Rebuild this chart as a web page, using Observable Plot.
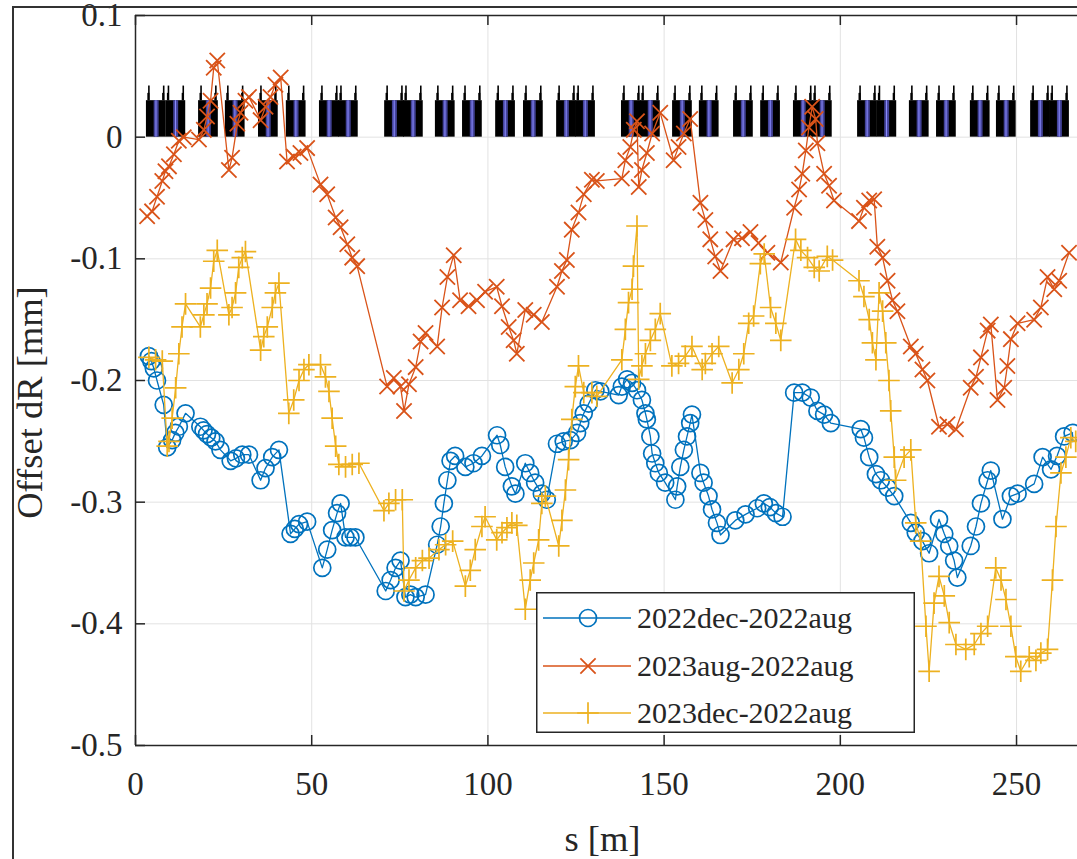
<!DOCTYPE html>
<html><head><meta charset="utf-8">
<script src="https://cdn.jsdelivr.net/npm/d3@7"></script>
<script src="https://cdn.jsdelivr.net/npm/@observablehq/plot@0.6"></script>
<style>
html,body{margin:0;padding:0;background:#fff;overflow:hidden;}
#wrap{position:relative;width:1077px;height:859px;overflow:hidden;}
#wrap svg{display:block;}
.outerL{position:absolute;left:12px;top:6px;width:2px;height:853px;background:#333;}
.outerT{position:absolute;left:12px;top:6px;width:1065px;height:2px;background:#333;}
#legend{position:absolute;left:536px;top:592px;}
</style></head><body>
<div id="wrap"><div class="outerL"></div><div class="outerT"></div></div>
<script>
// ---------- data ----------
const seriesNames = ["2022dec-2022aug", "2023aug-2022aug", "2023dec-2022aug"];
const seriesColors = ["#0072BD", "#D95319", "#EDB120"];

const xTicks = [0, 50, 100, 150, 200, 250];
const yTicks = [-0.5, -0.4, -0.3, -0.2, -0.1, 0, 0.1];

const blueS = [3.8,4.5,5.2,6.1,8.0,9.0,10.4,11.3,12.3,14.2,18.4,19.3,20.3,21.5,22.7,24.1,27.0,28.5,30.3,32.2,35.5,36.9,38.8,40.7,44.0,45.2,46.4,48.7,53.0,54.4,55.8,57.2,58.2,59.6,61.0,62.4,71.0,72.4,73.8,75.2,76.6,78.0,79.5,82.3,85.6,86.6,87.5,88.5,89.4,90.7,93.6,95.9,98.3,102.6,103.5,104.9,106.8,107.8,110.6,112.0,113.4,115.3,116.7,119.6,121.5,123.4,125.3,126.2,127.2,128.6,130.5,131.9,137.1,138.0,139.5,140.9,142.3,143.7,144.7,145.1,146.1,146.6,147.5,148.5,150.3,153.2,153.7,154.6,155.6,156.5,157.4,157.9,160.3,161.2,162.6,163.6,165.0,166.0,170.2,173.1,176.4,178.3,180.0,181.7,183.6,186.9,189.2,191.6,193.5,195.4,197.3,205.8,206.7,208.2,210.1,211.5,213.4,215.3,220.0,221.4,223.3,225.2,228.0,229.5,230.9,232.3,233.2,237.0,238.5,239.9,241.8,242.7,246.0,248.4,250.3,255.0,257.4,259.8,261.5,263.5,265.9];
const blueV = [-0.180,-0.184,-0.190,-0.200,-0.220,-0.255,-0.249,-0.243,-0.238,-0.227,-0.238,-0.241,-0.244,-0.247,-0.250,-0.257,-0.266,-0.264,-0.261,-0.261,-0.282,-0.272,-0.263,-0.257,-0.326,-0.322,-0.318,-0.316,-0.354,-0.339,-0.323,-0.309,-0.301,-0.329,-0.329,-0.329,-0.373,-0.364,-0.354,-0.348,-0.378,-0.376,-0.378,-0.376,-0.335,-0.320,-0.301,-0.282,-0.266,-0.262,-0.271,-0.268,-0.262,-0.245,-0.253,-0.271,-0.287,-0.293,-0.268,-0.276,-0.284,-0.293,-0.298,-0.252,-0.250,-0.249,-0.243,-0.235,-0.227,-0.219,-0.208,-0.209,-0.212,-0.205,-0.199,-0.202,-0.208,-0.216,-0.227,-0.232,-0.246,-0.260,-0.268,-0.276,-0.284,-0.298,-0.287,-0.271,-0.257,-0.246,-0.235,-0.228,-0.276,-0.284,-0.295,-0.306,-0.317,-0.327,-0.315,-0.310,-0.305,-0.301,-0.304,-0.309,-0.312,-0.210,-0.210,-0.214,-0.225,-0.228,-0.235,-0.240,-0.247,-0.263,-0.277,-0.282,-0.288,-0.295,-0.317,-0.325,-0.332,-0.342,-0.314,-0.326,-0.336,-0.348,-0.362,-0.336,-0.320,-0.301,-0.282,-0.274,-0.314,-0.295,-0.293,-0.285,-0.263,-0.273,-0.262,-0.246,-0.243];

const orangeS = [3.3,4.7,6.1,7.6,8.5,9.5,10.9,12.3,13.7,18.0,19.4,20.3,21.3,22.2,23.2,26.5,27.4,28.9,29.8,31.2,32.2,35.5,36.9,38.3,39.7,41.2,43.0,44.9,46.8,48.7,52.5,54.4,56.8,58.2,60.1,61.5,62.9,71.4,73.3,75.2,76.2,77.6,79.5,80.9,82.3,85.6,87.0,88.5,90.3,92.1,94.5,96.9,99.2,102.5,104.0,105.9,107.3,108.2,110.6,113.0,115.3,119.6,121.0,122.4,123.8,125.7,127.2,129.5,130.9,138.0,139.0,140.4,141.4,142.3,142.8,143.7,145.1,146.6,148.9,152.7,154.1,155.6,157.4,160.3,161.7,163.1,164.5,166.0,169.7,172.1,174.5,176.8,179.3,183.1,186.9,188.3,189.2,190.2,191.1,192.0,193.0,193.5,195.4,196.8,198.2,205.3,206.7,208.2,209.6,210.5,212.0,213.4,214.8,216.2,220.0,221.4,223.3,224.7,228.0,230.4,232.8,237.0,238.5,239.9,241.8,242.7,244.6,246.5,247.4,248.4,250.3,255.0,256.9,258.8,260.7,262.1,264.9];
const orangeV = [-0.065,-0.061,-0.049,-0.036,-0.028,-0.024,-0.014,-0.003,0.000,-0.002,0.006,0.017,0.030,0.057,0.063,-0.027,-0.017,0.011,0.020,0.030,0.033,0.014,0.025,0.033,0.043,0.049,-0.020,-0.016,-0.013,-0.009,-0.039,-0.047,-0.066,-0.074,-0.088,-0.099,-0.106,-0.205,-0.198,-0.205,-0.225,-0.203,-0.189,-0.168,-0.161,-0.172,-0.140,-0.115,-0.097,-0.134,-0.139,-0.134,-0.127,-0.123,-0.139,-0.156,-0.167,-0.178,-0.142,-0.146,-0.152,-0.123,-0.110,-0.101,-0.076,-0.062,-0.047,-0.035,-0.036,-0.034,-0.019,-0.008,0.006,0.013,-0.041,-0.027,-0.013,0.003,0.020,-0.019,-0.008,0.003,0.015,-0.054,-0.068,-0.084,-0.098,-0.110,-0.084,-0.083,-0.078,-0.087,-0.095,-0.103,-0.058,-0.043,-0.030,-0.011,0.008,0.025,0.015,-0.005,-0.030,-0.040,-0.052,-0.069,-0.058,-0.052,-0.051,-0.090,-0.099,-0.118,-0.134,-0.143,-0.172,-0.178,-0.191,-0.200,-0.238,-0.236,-0.240,-0.206,-0.197,-0.181,-0.159,-0.154,-0.216,-0.206,-0.188,-0.166,-0.153,-0.150,-0.140,-0.115,-0.125,-0.118,-0.095];

const yellowS = [3.8,5.7,7.6,9.0,9.5,10.4,11.4,12.3,13.2,14.2,18.4,19.4,20.3,21.3,22.2,23.2,26.5,27.4,28.4,29.3,30.3,31.2,35.5,36.4,37.4,38.8,39.7,40.7,43.5,44.9,46.4,47.8,49.2,52.5,53.9,54.9,55.8,56.8,57.7,59.6,61.5,63.4,70.5,71.9,73.8,75.7,76.2,77.6,79.5,81.4,83.3,86.1,88.0,90.0,93.6,95.0,96.4,98.3,99.2,102.5,104.0,105.4,106.8,108.2,110.6,112.0,113.0,114.4,115.3,116.3,120.1,121.0,122.0,122.9,123.8,124.8,125.7,127.2,129.5,130.9,138.0,139.0,139.9,140.9,141.3,142.3,142.8,143.7,144.7,146.1,147.5,148.9,152.2,154.1,156.0,157.9,160.8,161.7,163.6,165.5,169.3,171.2,172.6,174.0,175.4,177.3,178.4,180.2,181.7,183.1,187.3,188.8,190.7,192.6,194.0,196.3,197.8,205.3,206.7,208.2,209.1,210.1,211.0,212.0,212.9,213.8,214.3,215.3,215.7,218.1,220.0,221.4,222.8,224.3,225.2,226.6,228.0,229.5,230.9,232.8,235.6,238.0,239.9,241.8,244.1,245.6,247.0,248.4,249.8,251.2,253.6,255.5,256.9,258.8,260.2,261.2,262.6,264.0,265.4,266.8];
const yellowV = [-0.181,-0.183,-0.184,-0.254,-0.250,-0.231,-0.206,-0.178,-0.156,-0.137,-0.156,-0.146,-0.137,-0.124,-0.102,-0.093,-0.146,-0.140,-0.128,-0.107,-0.099,-0.094,-0.175,-0.164,-0.156,-0.140,-0.128,-0.120,-0.227,-0.216,-0.200,-0.191,-0.187,-0.187,-0.197,-0.209,-0.231,-0.254,-0.269,-0.271,-0.269,-0.268,-0.307,-0.301,-0.298,-0.298,-0.373,-0.364,-0.354,-0.348,-0.346,-0.339,-0.335,-0.332,-0.369,-0.356,-0.339,-0.320,-0.312,-0.331,-0.325,-0.321,-0.317,-0.319,-0.388,-0.364,-0.350,-0.331,-0.301,-0.295,-0.336,-0.315,-0.290,-0.265,-0.232,-0.205,-0.188,-0.210,-0.210,-0.213,-0.183,-0.158,-0.136,-0.125,-0.106,-0.073,-0.199,-0.188,-0.178,-0.167,-0.158,-0.145,-0.188,-0.186,-0.180,-0.172,-0.191,-0.186,-0.178,-0.172,-0.202,-0.191,-0.178,-0.153,-0.147,-0.104,-0.096,-0.140,-0.153,-0.167,-0.084,-0.093,-0.099,-0.107,-0.110,-0.098,-0.101,-0.118,-0.131,-0.150,-0.169,-0.183,-0.128,-0.143,-0.169,-0.200,-0.225,-0.263,-0.282,-0.263,-0.257,-0.317,-0.332,-0.402,-0.439,-0.383,-0.361,-0.377,-0.399,-0.417,-0.421,-0.417,-0.408,-0.402,-0.354,-0.364,-0.380,-0.402,-0.427,-0.439,-0.427,-0.430,-0.424,-0.421,-0.364,-0.320,-0.276,-0.263,-0.247,-0.250];

// lattice (magnet layout) drawn along the top: start of each cell [m]
const cellStarts = [3.1,8.65,17.9,25.5,34.9,42.8,52.2,57.6,70.7,76.05,85.1,92.8,102.2,110.1,119.5,124.9,137.9,143.3,152.4,160.0,169.7,177.4,186.7,192.1,204.9,210.4,219.6,227.3,236.9,244.3,254.0,259.4];
const cellLength = 5.6;          // m
const quadHeight = 0.030;        // mm axis units
const sextHeight = 0.042;
const sextShoulder = 0.036;
const sextOffsets = [0.7, 4.9];  // within cell
const dipoleRange = [2.2, 3.6];
const dipoleStripe = [2.7, 3.0];

// ---------- build ----------
const W = 1077, H = 859;
const mL = 135, mR = 0, mT = 15, mB = 114;
const xDomain = [0, 267.3], yDomain = [-0.5, 0.1];
const pxPerX = (W - mL - mR) / (xDomain[1] - xDomain[0]);
const pxPerY = (H - mT - mB) / (yDomain[1] - yDomain[0]);
const tickPx = 10;
const tlx = tickPx / pxPerX, tly = tickPx / pxPerY;

const mk = (S, V) => S.map((s, i) => ({s, v: V[i]}));
const blue = mk(blueS, blueV), orange = mk(orangeS, orangeV), yellow = mk(yellowS, yellowV);
const cells = cellStarts.map(s => ({s}));
const spikes = cells.flatMap(c => sextOffsets.map(o => ({s: c.s + o})));

const fmtY = d => d === 0 ? "0" : d.toFixed(1);
const boxColor = "#262626";
const gridColor = "#e2e2e2";
const fontFam = "'Liberation Serif', 'Times New Roman', serif";

const plot = Plot.plot({
  width: W, height: H,
  marginLeft: mL, marginRight: mR, marginTop: mT, marginBottom: mB,
  x: {domain: xDomain}, y: {domain: yDomain},
  style: {fontFamily: fontFam, fontSize: "33px", color: "#000", background: "transparent", overflow: "visible"},
  marks: [
    // grid
    Plot.ruleY(yTicks, {y: d => d, stroke: gridColor, strokeWidth: 1}),
    Plot.ruleX(xTicks, {x: d => d, stroke: gridColor, strokeWidth: 1}),
    // lattice
    Plot.rect(cells, {x1: d => d.s, x2: d => d.s + cellLength, y1: () => 0, y2: () => quadHeight, fill: "black"}),
    Plot.rect(spikes, {x1: d => d.s - 0.3, x2: d => d.s + 0.3, y1: () => quadHeight, y2: () => sextShoulder, fill: "black"}),
    Plot.ruleX(spikes, {x: d => d.s, y1: () => quadHeight, y2: () => sextHeight, stroke: "black", strokeWidth: 1.6}),
    Plot.rect(cells, {x1: d => d.s + dipoleRange[0], x2: d => d.s + dipoleRange[1], y1: () => 0, y2: () => quadHeight, fill: "#44449a"}),
    Plot.rect(cells, {x1: d => d.s + dipoleStripe[0], x2: d => d.s + dipoleStripe[1], y1: () => 0, y2: () => quadHeight, fill: "#8a8aff"}),
    // series
    Plot.line(blue, {x: "s", y: "v", stroke: seriesColors[0], strokeWidth: 1.3}),
    Plot.dot(blue, {x: "s", y: "v", r: 8.5, symbol: "circle", fill: "none", stroke: seriesColors[0], strokeWidth: 1.7}),
    Plot.line(orange, {x: "s", y: "v", stroke: seriesColors[1], strokeWidth: 1.3}),
    Plot.dot(orange, {x: "s", y: "v", r: 7, symbol: "times", stroke: seriesColors[1], strokeWidth: 1.8}),
    Plot.line(yellow, {x: "s", y: "v", stroke: seriesColors[2], strokeWidth: 1.3}),
    Plot.dot(yellow, {x: "s", y: "v", r: 7, symbol: "plus", stroke: seriesColors[2], strokeWidth: 1.7}),
    // box
    Plot.ruleY([yDomain[1]], {y: d => d, stroke: boxColor, strokeWidth: 1.5}),
    Plot.ruleY([yDomain[0]], {y: d => d, stroke: boxColor, strokeWidth: 1.5}),
    Plot.ruleX([xDomain[0]], {x: d => d, stroke: boxColor, strokeWidth: 1.5}),
    // inward ticks
    Plot.ruleY(yTicks, {y: d => d, x1: () => xDomain[0], x2: () => xDomain[0] + tlx, stroke: boxColor, strokeWidth: 1.5}),
    Plot.ruleX(xTicks, {x: d => d, y1: () => yDomain[0], y2: () => yDomain[0] + tly, stroke: boxColor, strokeWidth: 1.5}),
    Plot.ruleX(xTicks, {x: d => d, y1: () => yDomain[1] - tly, y2: () => yDomain[1], stroke: boxColor, strokeWidth: 1.5}),
    // tick labels
    Plot.axisY({ticks: yTicks, tickSize: 0, tickPadding: 13, tickFormat: fmtY, label: null, fill: "#262626"}),
    Plot.axisX({ticks: xTicks, tickSize: 0, tickPadding: 26, tickFormat: d => String(d), label: null, fill: "#262626"}),
    // axis titles
    Plot.text(["Offset dR [mm]"], {frameAnchor: "left", text: d => d, rotate: -90, dx: -105, dy: 22, fontSize: 36.5, textAnchor: "middle", lineAnchor: "middle", fill: "#262626"}),
    Plot.text(["s [m]"], {frameAnchor: "bottom", text: d => d, dx: -4, dy: 94, fontSize: 36.5, textAnchor: "middle", lineAnchor: "middle", fill: "#262626"})
  ]
});
document.getElementById("wrap").appendChild(plot);

// ---------- legend ----------
const LW = 379, LH = 141;
const rowY = [26, 74, 121];
const symbols = ["circle", "times", "plus"];
const lg = d3.select("#wrap").append("svg").attr("id", "legend")
  .attr("width", LW).attr("height", LH)
  .style("font-family", fontFam).style("font-size", "30px");
lg.append("rect").attr("x", 0.75).attr("y", 0.75).attr("width", LW - 1.5).attr("height", LH - 1.5)
  .attr("fill", "white").attr("stroke", boxColor).attr("stroke-width", 1.5);
seriesNames.forEach((name, i) => {
  const g = lg.append("g").attr("transform", `translate(0,${rowY[i]})`);
  g.append("line").attr("x1", 7).attr("x2", 95).attr("y1", 0).attr("y2", 0)
    .attr("stroke", seriesColors[i]).attr("stroke-width", 1.3);
  const sym = symbols[i];
  if (sym === "circle") {
    g.append("circle").attr("cx", 52).attr("cy", 0).attr("r", 8.5).attr("fill", "none")
      .attr("stroke", seriesColors[i]).attr("stroke-width", 1.7);
  } else {
    const size = Math.PI * 49;
    g.append("path").attr("transform", "translate(52,0)")
      .attr("d", d3.symbol(sym === "times" ? d3.symbolTimes : d3.symbolPlus, size)())
      .attr("fill", "none").attr("stroke", seriesColors[i]).attr("stroke-width", 1.7);
  }
  g.append("text").attr("x", 101).attr("y", 0).attr("dy", "0.33em").attr("fill", "#262626").text(name);
});
</script>
</body></html>
